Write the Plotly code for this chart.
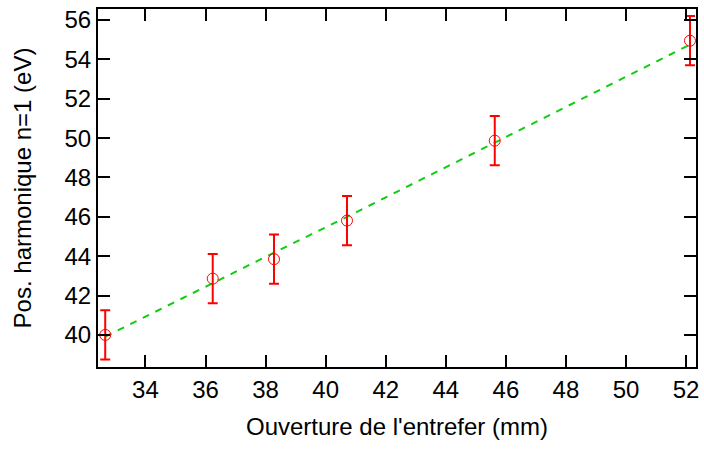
import plotly.graph_objects as go

# Measured harmonic positions vs. undulator gap
gap_mm = [32.66, 36.24, 38.28, 40.71, 45.63, 52.13]
pos_ev = [40.0, 42.86, 43.85, 45.81, 49.87, 54.95]
err_ev = [1.25, 1.25, 1.25, 1.25, 1.25, 1.25]

# Fitted curve through the measurements
fit_gap = [32.66, 36.24, 38.28, 40.71, 45.63, 52.13]
fit_ev = [39.91, 42.64, 44.18, 46.0, 49.78, 54.75]

FONT = "Liberation Sans, Arial, sans-serif"
FS = 24

fig = go.Figure()
fig.add_trace(go.Scatter(
    x=fit_gap, y=fit_ev, mode="lines",
    line=dict(color="#11cc11", width=2, dash="7px,7px"),
    showlegend=False, hoverinfo="skip",
))
fig.add_trace(go.Scatter(
    x=gap_mm, y=pos_ev, mode="markers",
    marker=dict(symbol="circle-open", size=11, color="#ff0000", line=dict(width=1)),
    error_y=dict(type="data", array=err_ev, color="#ff0000", thickness=2, width=5),
    showlegend=False,
))

axis_common = dict(
    showline=True, linecolor="black", linewidth=2, mirror="allticks",
    ticks="inside", ticklen=12, tickwidth=1.5, tickcolor="black",
    showgrid=False, zeroline=False,
    tickfont=dict(family=FONT, size=FS, color="black"),
)

fig.update_xaxes(
    range=[32.42, 52.33], tick0=34, dtick=2,
    title=dict(text="Ouverture de l'entrefer (mm)", font=dict(family=FONT, size=FS, color="black"), standoff=16),
    **axis_common,
)
fig.update_yaxes(
    range=[38.37, 56.56], tick0=40, dtick=2,
    title=dict(text="Pos. harmonique n=1 (eV)", font=dict(family=FONT, size=FS, color="black"), standoff=26),
    **axis_common,
)

fig.update_layout(
    width=704, height=449,
    margin=dict(l=98, r=5, t=9, b=82),
    paper_bgcolor="white", plot_bgcolor="white",
    font=dict(family=FONT, color="black"),
)

fig.write_html("out.html")
